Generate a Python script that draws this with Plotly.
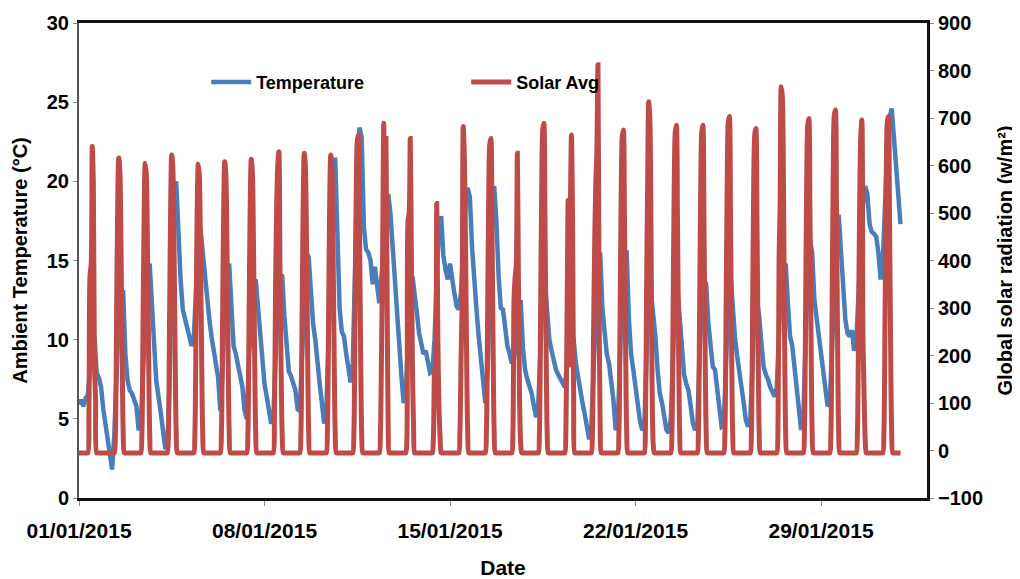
import plotly.graph_objects as go
from datetime import datetime, timedelta

START = datetime(2015, 1, 1)

# Temperature (°C) read every 2 hours (00,02,...,22h) for each day of January 2015
temp_hours = list(range(0, 24, 2))
temp_days = [
    [5.9, 6.2, 5.8, 6.3, 6.5, 8.5, 9.8, 10.2, 7.9, 7.6, 7.0, 5.6],
    [4.7, 3.9, 3.0, 1.8, 4.0, 9.0, 11.5, 13.0, 13.0, 9.1, 7.4, 6.8],
    [6.6, 6.2, 5.8, 4.3, 4.5, 8.0, 12.0, 14.2, 14.8, 11.7, 9.8, 7.4],
    [6.6, 5.4, 4.3, 3.2, 3.2, 7.0, 14.0, 19.0, 20.0, 16.5, 13.8, 11.9],
    [11.3, 10.8, 10.2, 9.6, 10.2, 14.0, 16.0, 17.0, 15.5, 13.8, 12.1, 11.3],
    [10.2, 9.3, 8.5, 7.6, 5.5, 8.0, 12.0, 14.0, 14.8, 11.5, 9.6, 9.1],
    [8.4, 7.8, 7.0, 5.5, 5.0, 9.0, 12.0, 13.5, 13.8, 12.0, 10.2, 8.7],
    [7.2, 6.4, 5.6, 4.7, 5.0, 8.5, 12.5, 14.0, 14.1, 11.5, 9.5, 8.0],
    [7.7, 7.2, 6.8, 5.6, 5.5, 9.0, 13.0, 15.5, 15.2, 12.5, 11.0, 10.0],
    [8.3, 7.2, 6.0, 4.7, 5.5, 10.0, 15.0, 19.0, 21.5, 16.0, 12.0, 10.5],
    [10.2, 9.1, 8.1, 7.3, 8.5, 15.0, 20.5, 23.4, 22.8, 17.1, 15.7, 15.5],
    [15.0, 13.5, 14.6, 13.4, 12.3, 14.0, 16.0, 18.0, 19.2, 18.0, 15.8, 13.5],
    [11.7, 9.6, 7.7, 6.0, 6.5, 10.0, 13.0, 14.0, 13.0, 11.7, 10.4, 9.6],
    [9.1, 9.3, 8.5, 7.9, 8.0, 10.0, 14.0, 17.0, 17.8, 15.3, 14.4, 13.8],
    [14.8, 13.6, 12.9, 12.1, 11.9, 13.0, 16.0, 18.5, 19.6, 19.0, 15.8, 13.5],
    [11.9, 10.2, 8.9, 7.4, 6.0, 8.0, 13.0, 17.0, 19.7, 17.5, 14.0, 12.0],
    [11.9, 10.4, 9.6, 9.1, 8.5, 8.8, 10.0, 12.0, 12.5, 9.5, 8.1, 7.5],
    [7.0, 6.6, 5.8, 5.1, 6.0, 10.0, 13.0, 13.6, 11.5, 10.0, 9.3, 8.6],
    [8.1, 7.8, 7.5, 7.2, 7.0, 8.5, 10.0, 10.5, 10.0, 8.5, 7.5, 6.5],
    [6.0, 5.3, 4.5, 3.7, 4.5, 8.0, 12.0, 15.0, 15.5, 12.0, 10.5, 9.1],
    [8.5, 7.5, 6.2, 4.3, 4.5, 9.0, 13.5, 15.5, 15.5, 11.3, 9.1, 8.1],
    [7.0, 6.0, 4.9, 4.3, 4.5, 9.0, 12.5, 13.0, 11.7, 10.2, 8.1, 6.6],
    [6.0, 4.9, 4.3, 4.1, 5.0, 9.0, 12.5, 13.2, 11.5, 9.5, 7.8, 7.2],
    [6.8, 5.8, 4.7, 4.3, 4.5, 9.0, 12.5, 13.8, 13.5, 11.0, 9.2, 8.3],
    [8.1, 7.0, 5.8, 4.5, 4.6, 9.0, 12.5, 14.2, 12.0, 10.2, 9.0, 7.8],
    [6.6, 6.0, 4.9, 4.5, 5.0, 9.0, 12.0, 12.5, 11.5, 9.8, 8.3, 7.8],
    [7.5, 7.0, 6.6, 6.4, 7.0, 11.0, 14.0, 14.5, 14.8, 12.3, 10.2, 9.6],
    [8.1, 7.0, 5.3, 4.3, 5.0, 10.0, 14.5, 16.3, 15.5, 12.5, 11.3, 10.2],
    [9.1, 8.3, 7.0, 5.8, 6.0, 10.0, 14.0, 16.5, 17.9, 16.0, 13.4, 11.3],
    [10.4, 10.2, 10.6, 9.3, 10.0, 13.0, 16.0, 18.5, 19.7, 19.2, 17.3, 16.8],
    [16.7, 16.5, 15.5, 13.8, 15.0, 19.0, 22.0, 24.0, 24.6, 22.8, 21.0, 19.2],
]
temp_last = 17.3  # 01/02/2015 00:00

# Global solar radiation (W/m2) read hourly from 08h to 17h; flat night value otherwise
solar_hours = list(range(8, 18))
solar_night = -5
solar_days = [
    [-5, 80, 370, 390, 640, 560, 180, 110, -5, -5],
    [-5, 40, 270, 510, 616, 590, 440, 220, 40, -5],
    [-5, 40, 265, 500, 605, 580, 430, 215, 40, -5],
    [-5, 40, 270, 515, 622, 595, 445, 220, 40, -5],
    [-5, 40, 265, 500, 603, 578, 430, 215, 40, -5],
    [-5, 40, 265, 505, 608, 582, 435, 215, 40, -5],
    [-5, 40, 270, 510, 613, 587, 440, 218, 40, -5],
    [-5, 70, 340, 513, 600, 629, 390, 180, 35, -5],
    [-5, 40, 270, 515, 626, 600, 450, 220, 40, -5],
    [-5, 40, 270, 515, 622, 595, 445, 220, 40, -5],
    [-5, 40, 270, 530, 650, 664, 480, 230, 40, -5],
    [-5, 40, 210, 420, 689, 450, 657, 345, 50, -5],
    [-5, 30, 485, 500, 657, 420, 170, 50, -5, -5],
    [-5, 30, 170, 110, 520, 239, 92, 30, -5, -5],
    [-5, 40, 190, 320, 682, 620, 450, 210, 40, -5],
    [-5, 40, 270, 520, 645, 657, 475, 225, 40, -5],
    [-5, 40, 320, 366, 390, 626, 350, 110, 15, -5],
    [-5, 40, 275, 540, 675, 689, 490, 230, 40, -5],
    [-5, 50, 280, 527, 180, 500, 664, 485, 90, -5],
    [-5, 40, 240, 430, 560, 630, 812, 330, 50, -5],
    [-5, 40, 270, 530, 660, 675, 490, 230, 40, -5],
    [-5, 50, 330, 565, 734, 700, 471, 140, 15, -5],
    [-5, 40, 275, 540, 670, 685, 490, 230, 40, -5],
    [-5, 40, 275, 540, 670, 685, 485, 230, 40, -5],
    [-5, 40, 280, 555, 690, 703, 505, 235, 40, -5],
    [-5, 40, 275, 550, 665, 678, 485, 230, 40, -5],
    [-5, 40, 400, 520, 766, 745, 560, 240, 40, -5],
    [-5, 40, 280, 555, 685, 699, 500, 235, 40, -5],
    [-5, 40, 285, 565, 705, 717, 510, 240, 40, -5],
    [-5, 40, 260, 520, 660, 696, 239, 120, 25, -5],
    [-5, 40, 280, 555, 690, 703, 505, 235, 40, -5],
]

tick_dates = ["2015-01-01", "2015-01-08", "2015-01-15", "2015-01-22", "2015-01-29"]
tick_text = ["01/01/2015", "08/01/2015", "15/01/2015", "22/01/2015", "29/01/2015"]

# ---- build series
tx, ty = [], []
for d, vals in enumerate(temp_days):
    for h, v in zip(temp_hours, vals):
        tx.append(START + timedelta(days=d, hours=h))
        ty.append(v)
tx.append(START + timedelta(days=len(temp_days)))
ty.append(temp_last)

sx, sy = [], []
for d, vals in enumerate(solar_days):
    lookup = dict(zip(solar_hours, vals))
    for h in range(24):
        sx.append(START + timedelta(days=d, hours=h))
        sy.append(lookup.get(h, solar_night))
sx.append(START + timedelta(days=len(solar_days)))
sy.append(solar_night)

BLUE = "#4A7EBB"
RED = "#BE4B48"
FONT = "Liberation Sans, Arial, sans-serif"

fig = go.Figure()
fig.add_trace(go.Scatter(x=tx, y=ty, name="Temperature", mode="lines",
                         line=dict(color=BLUE, width=4.5)))
fig.add_trace(go.Scatter(x=sx, y=sy, name="Solar Avg", mode="lines", yaxis="y2",
                         line=dict(color=RED, width=5, shape="spline", smoothing=0.8)))

# page body adds an 8px offset, so the figure is sized 1012x571
fig.update_layout(
    width=1012, height=571,
    margin=dict(l=71, r=93, t=15, b=81),
    paper_bgcolor="white", plot_bgcolor="white",
    font=dict(family=FONT, size=20, color="black", weight="bold"),
    showlegend=True,
    legend=dict(orientation="h", x=0.15, y=0.875, xanchor="left", yanchor="middle",
                bgcolor="rgba(0,0,0,0)", font=dict(size=18, weight="bold"),
                entrywidth=205, entrywidthmode="pixels", itemwidth=40),
    xaxis=dict(type="date", range=["2015-01-01", "2015-02-02"], automargin=False,
               tickmode="array", tickvals=tick_dates, ticktext=tick_text,
               showgrid=False, zeroline=False,
               showline=True, linecolor="#111111", linewidth=3, mirror=True,
               ticks="outside", ticklen=5, tickcolor="#888888",
               ticklabelstandoff=7,
               tickfont=dict(size=21, weight="bold"),
               title=dict(text="Date", font=dict(size=21, weight="bold"), standoff=20)),
    yaxis=dict(range=[0, 30], dtick=5, showgrid=False, zeroline=False, automargin=False,
               showline=True, linecolor="#555555", linewidth=2,
               ticks="outside", ticklen=4, tickcolor="#888888",
               tickfont=dict(size=20, weight="bold"),
               title=dict(text="Ambient Temperature (°C)", font=dict(size=20, weight="bold"),
                          standoff=14)),
    yaxis2=dict(range=[-100, 900], dtick=100, overlaying="y", side="right", automargin=False,
                showgrid=False, zeroline=False,
                showline=True, linecolor="#111111", linewidth=3,
                ticks="outside", ticklen=4, tickcolor="#888888",
                tickfont=dict(size=20, weight="bold"),
                title=dict(text="Global solar radiation (w/m²)", font=dict(size=20, weight="bold"),
                           standoff=16)),
)

fig.write_html("out.html")
